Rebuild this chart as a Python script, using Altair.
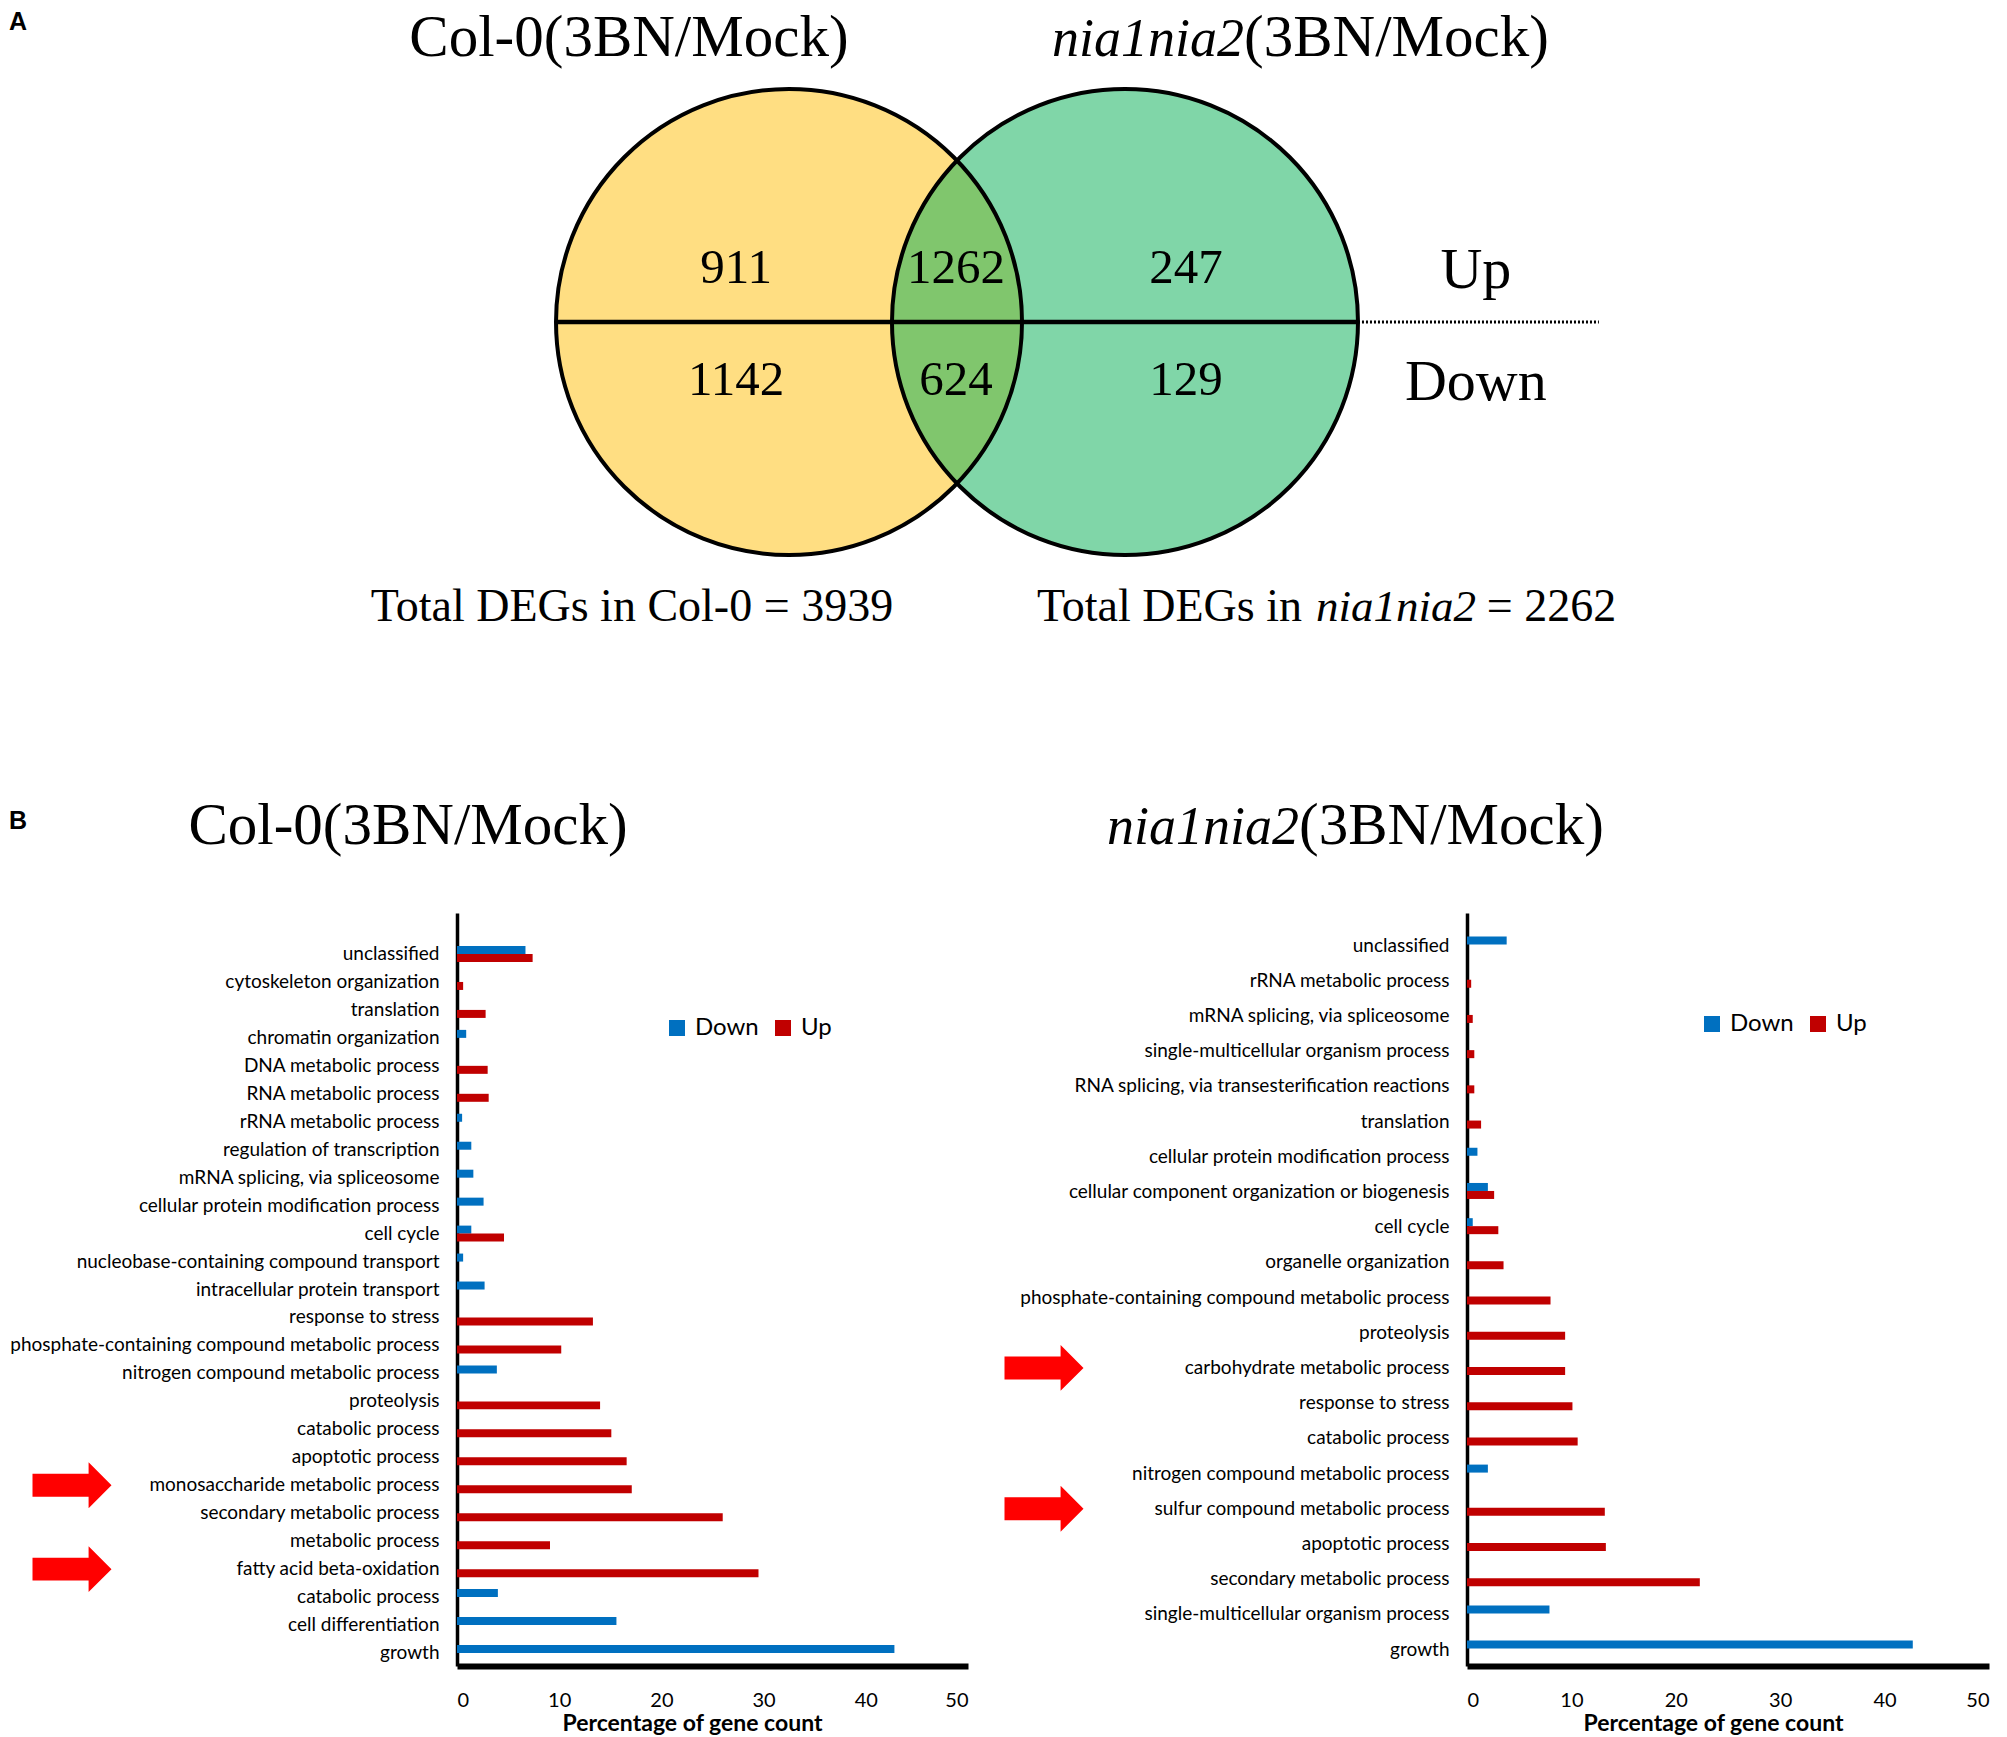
import json
import math
import altair as alt
import pandas as pd

# ---------------- data ----------------
venn_up = [911, 1262, 247]          # Col-0 only, shared, nia1nia2 only
venn_down = [1142, 624, 129]

col_terms = [
    "unclassified", "cytoskeleton organization", "translation", "chromatin organization",
    "DNA metabolic process", "RNA metabolic process", "rRNA metabolic process",
    "regulation of transcription", "mRNA splicing, via spliceosome",
    "cellular protein modification process", "cell cycle",
    "nucleobase-containing compound transport", "intracellular protein transport",
    "response to stress", "phosphate-containing compound metabolic process",
    "nitrogen compound metabolic process", "proteolysis", "catabolic process",
    "apoptotic process", "monosaccharide metabolic process", "secondary metabolic process",
    "metabolic process", "fatty acid beta-oxidation", "catabolic process",
    "cell differentiation", "growth",
]
col_down = [6.7, None, None, 0.9, None, None, 0.5, 1.4, 1.6, 2.6, 1.4, 0.6, 2.7,
            None, None, 3.9, None, None, None, None, None, None, None, 4.0, 15.6, 42.8]
col_up = [7.4, 0.6, 2.8, None, 3.0, 3.1, None, None, None, None, 4.6, None, None,
          13.3, 10.2, None, 14.0, 15.1, 16.6, 17.1, 26.0, 9.1, 29.5, None, None, None]
col_highlight = ["monosaccharide metabolic process", "fatty acid beta-oxidation"]

nia_terms = [
    "unclassified", "rRNA metabolic process", "mRNA splicing, via spliceosome",
    "single-multicellular organism process", "RNA splicing, via transesterification reactions",
    "translation", "cellular protein modification process",
    "cellular component organization or biogenesis", "cell cycle", "organelle organization",
    "phosphate-containing compound metabolic process", "proteolysis",
    "carbohydrate metabolic process", "response to stress", "catabolic process",
    "nitrogen compound metabolic process", "sulfur compound metabolic process",
    "apoptotic process", "secondary metabolic process",
    "single-multicellular organism process", "growth",
]
nia_down = [3.8, None, None, None, None, None, 1.0, 2.0, 0.55, None, None, None, None,
            None, None, 2.0, None, None, None, 7.9, 42.7]
nia_up = [None, 0.4, 0.55, 0.7, 0.7, 1.35, None, 2.6, 3.0, 3.5, 8.0, 9.4, 9.4, 10.1,
          10.6, None, 13.2, 13.3, 22.3, None, None]
nia_highlight = ["carbohydrate metabolic process", "sulfur compound metabolic process"]

series = ["Down", "Up"]
series_colors = ["#0070C0", "#C00000"]

# ---------------- layout (Venn units: 1 = circle radius) ----------------
R_PX = 233
VENN_W, VENN_H = 1541, 640
X_DOM = [-1.425, 5.189]
Y_DOM = [-1.403, 1.343]
CIRCLE_X = [0.0, 1.442]
REGION_X = [-0.227, 0.717, 1.704]
ROW_Y = {"Up": 0.167, "Down": -0.313}
SIDE_X = 2.948
SIDE_Y = {"Up": 0.146, "Down": -0.335}
TITLE_Y = 1.142

SERIF = "Liberation Serif"
SANS = "Lato"

xs = alt.Scale(domain=X_DOM, nice=False, zero=False)
ys = alt.Scale(domain=Y_DOM, nice=False, zero=False)


def X(f="x"):
    return alt.X(f"{f}:Q", scale=xs, axis=None)


def Y(f="y"):
    return alt.Y(f"{f}:Q", scale=ys, axis=None)


def text_layer(rows, size, align="center", style="normal", font=SERIF, weight="normal",
               baseline="alphabetic"):
    return alt.Chart(pd.DataFrame(rows)).mark_text(
        font=font, fontSize=size, align=align, baseline=baseline, fontStyle=style,
        fontWeight=weight, color="black"
    ).encode(x=X(), y=Y(), text="t:N")


circle_size = (2 * R_PX) ** 2   # Vega circle symbol: radius = sqrt(size)/2
circ_df = pd.DataFrame({"x": CIRCLE_X, "y": [0, 0], "set": ["Col-0", "nia1nia2"]})

yellow = alt.Chart(circ_df.iloc[[0]]).mark_point(
    shape="circle", filled=True, size=circle_size, color="#FFDE82", opacity=1, strokeWidth=0
).encode(x=X(), y=Y())
green = alt.Chart(circ_df.iloc[[1]]).mark_point(
    shape="circle", filled=True, size=circle_size, color="#0FB15B", opacity=0.53, strokeWidth=0
).encode(x=X(), y=Y())
outlines = alt.Chart(circ_df).mark_point(
    shape="circle", filled=False, size=circle_size, color="black", strokeWidth=4, opacity=1
).encode(x=X(), y=Y())

line_df = pd.DataFrame({"x": [CIRCLE_X[0] - 1], "x2": [CIRCLE_X[1] + 1], "y": [0]})
mid_line = alt.Chart(line_df).mark_rule(color="black", strokeWidth=4.5).encode(
    x=X(), x2="x2:Q", y=Y())
dot_df = pd.DataFrame({"x": [CIRCLE_X[1] + 1], "x2": [3.476], "y": [0]})
dot_line = alt.Chart(dot_df).mark_rule(color="black", strokeWidth=3, strokeDash=[2, 2]).encode(
    x=X(), x2="x2:Q", y=Y())

count_rows = []
for rx, u, d in zip(REGION_X, venn_up, venn_down):
    count_rows.append({"x": rx, "y": ROW_Y["Up"], "t": str(u)})
    count_rows.append({"x": rx, "y": ROW_Y["Down"], "t": str(d)})
counts = text_layer(count_rows, 49)
side = text_layer([{"x": SIDE_X, "y": SIDE_Y[k], "t": k} for k in series[::-1]], 58)

total_col = venn_up[0] + venn_up[1] + venn_down[0] + venn_down[1]
total_nia = venn_up[1] + venn_up[2] + venn_down[1] + venn_down[2]

titles_c = text_layer([
    {"x": -0.687, "y": TITLE_Y, "t": "Col-0(3BN/Mock)"},
    {"x": -1.635, "y": -2.240, "t": "Col-0(3BN/Mock)"},
], 59)
titles_i = text_layer([
    {"x": 1.953, "y": TITLE_Y, "t": "nia1nia2"},
    {"x": 2.189, "y": -2.240, "t": "nia1nia2"},
], 54, align="right", style="italic")
titles_l = text_layer([
    {"x": 1.953, "y": TITLE_Y, "t": "(3BN/Mock)"},
    {"x": 2.189, "y": -2.240, "t": "(3BN/Mock)"},
], 59, align="left")

tot_c = text_layer([{"x": -0.674, "y": -1.283, "t": f"Total DEGs in Col-0 = {total_col}"}], 46)
tot_l = text_layer([
    {"x": 1.064, "y": -1.283, "t": "Total DEGs in"},
    {"x": 2.995, "y": -1.283, "t": f"= {total_nia}"},
], 46, align="left")
tot_i = text_layer([{"x": 2.262, "y": -1.283, "t": "nia1nia2"}], 45, align="left", style="italic")

panel_letters = text_layer([
    {"x": -3.348, "y": 1.288, "t": "A"},
    {"x": -3.348, "y": -2.142, "t": "B"},
], 25, align="left", font="Liberation Sans", weight="bold", baseline="middle")

venn = alt.layer(
    yellow, green, outlines, mid_line, dot_line, counts, side,
    titles_c, titles_i, titles_l, tot_c, tot_l, tot_i, panel_letters
).properties(width=VENN_W, height=VENN_H)

ARROW = "M-1,-0.29L0.42,-0.29L0.42,-0.58L1,0L0.42,0.58L0.42,0.29L-1,0.29Z"


def bar_panel(terms, down, up, highlight, width, height, p_in, p_out, align,
              legend_x, legend_y, arrow_x, title_x):
    rows = []
    for i, t in enumerate(terms):
        for s, vals in zip(series, [down, up]):
            if vals[i] is not None:
                rows.append({"row": i, "term": t, "Series": s, "pct": vals[i]})
    df = pd.DataFrame(rows)
    label_expr = json.dumps(terms) + "[datum.value]"
    yscale = alt.Scale(paddingInner=p_in, paddingOuter=p_out, align=align)
    yaxis = alt.Axis(title=None, labelExpr=label_expr, ticks=False, domainColor="black",
                     domainWidth=3.5, labelFont=SANS, labelFontSize=19, labelColor="black",
                     labelPadding=18, labelLimit=600)
    bars = alt.Chart(df).mark_bar().encode(
        y=alt.Y("row:O", scale=yscale, axis=yaxis),
        yOffset=alt.YOffset("Series:N", sort=series,
                            scale=alt.Scale(domain=series, paddingInner=0, paddingOuter=0)),
        x=alt.X("pct:Q", scale=alt.Scale(domain=[0, 50], nice=False),
                axis=alt.Axis(values=[0, 10, 20, 30, 40, 50], title="Percentage of gene count",
                              grid=False, ticks=False, domainColor="black", domainWidth=6,
                              labelFont=SANS, labelFontSize=20, labelColor="black",
                              labelPadding=24, titleFont=SANS, titleFontSize=23,
                              titleFontWeight="bold", titleColor="black", titlePadding=2,
                              titleX=title_x)),
        color=alt.Color("Series:N", scale=alt.Scale(domain=series, range=series_colors),
                        legend=alt.Legend(title=None, orient="none", legendX=legend_x,
                                          legendY=legend_y, direction="horizontal",
                                          symbolType="square", symbolSize=256,
                                          symbolStrokeWidth=0, labelFont=SANS,
                                          labelFontSize=24, labelColor="black",
                                          labelOffset=6, columnPadding=12)),
    )
    hl = pd.DataFrame({"row": [terms.index(h) for h in highlight]})
    arrows = alt.Chart(hl).mark_point(
        shape=ARROW, size=6241, filled=True, color="#FF0000", opacity=1, strokeWidth=0
    ).encode(y=alt.Y("row:O"), x=alt.value(arrow_x))
    return alt.layer(bars, arrows).properties(width=width, height=height)


left = bar_panel(col_terms, col_down, col_up, col_highlight, 511, 753,
                 0.428, 0.679, 0.869, 208, 103, -385, 235)
right = bar_panel(nia_terms, nia_down, nia_up, nia_highlight, 522, 753,
                  0.49, 0.44, 0.76, 233, 99, -423, 246)

bottom = alt.hconcat(left, right, spacing=499, bounds="flush").resolve_scale(color="independent")
chart = alt.vconcat(venn, bottom, spacing=264, bounds="flush").properties(
    padding={"left": 0, "top": 0, "right": 0, "bottom": 0},
    background="white",
).configure_view(strokeWidth=0)

chart.save("out.html", embed_options={"renderer": "svg", "actions": False})
